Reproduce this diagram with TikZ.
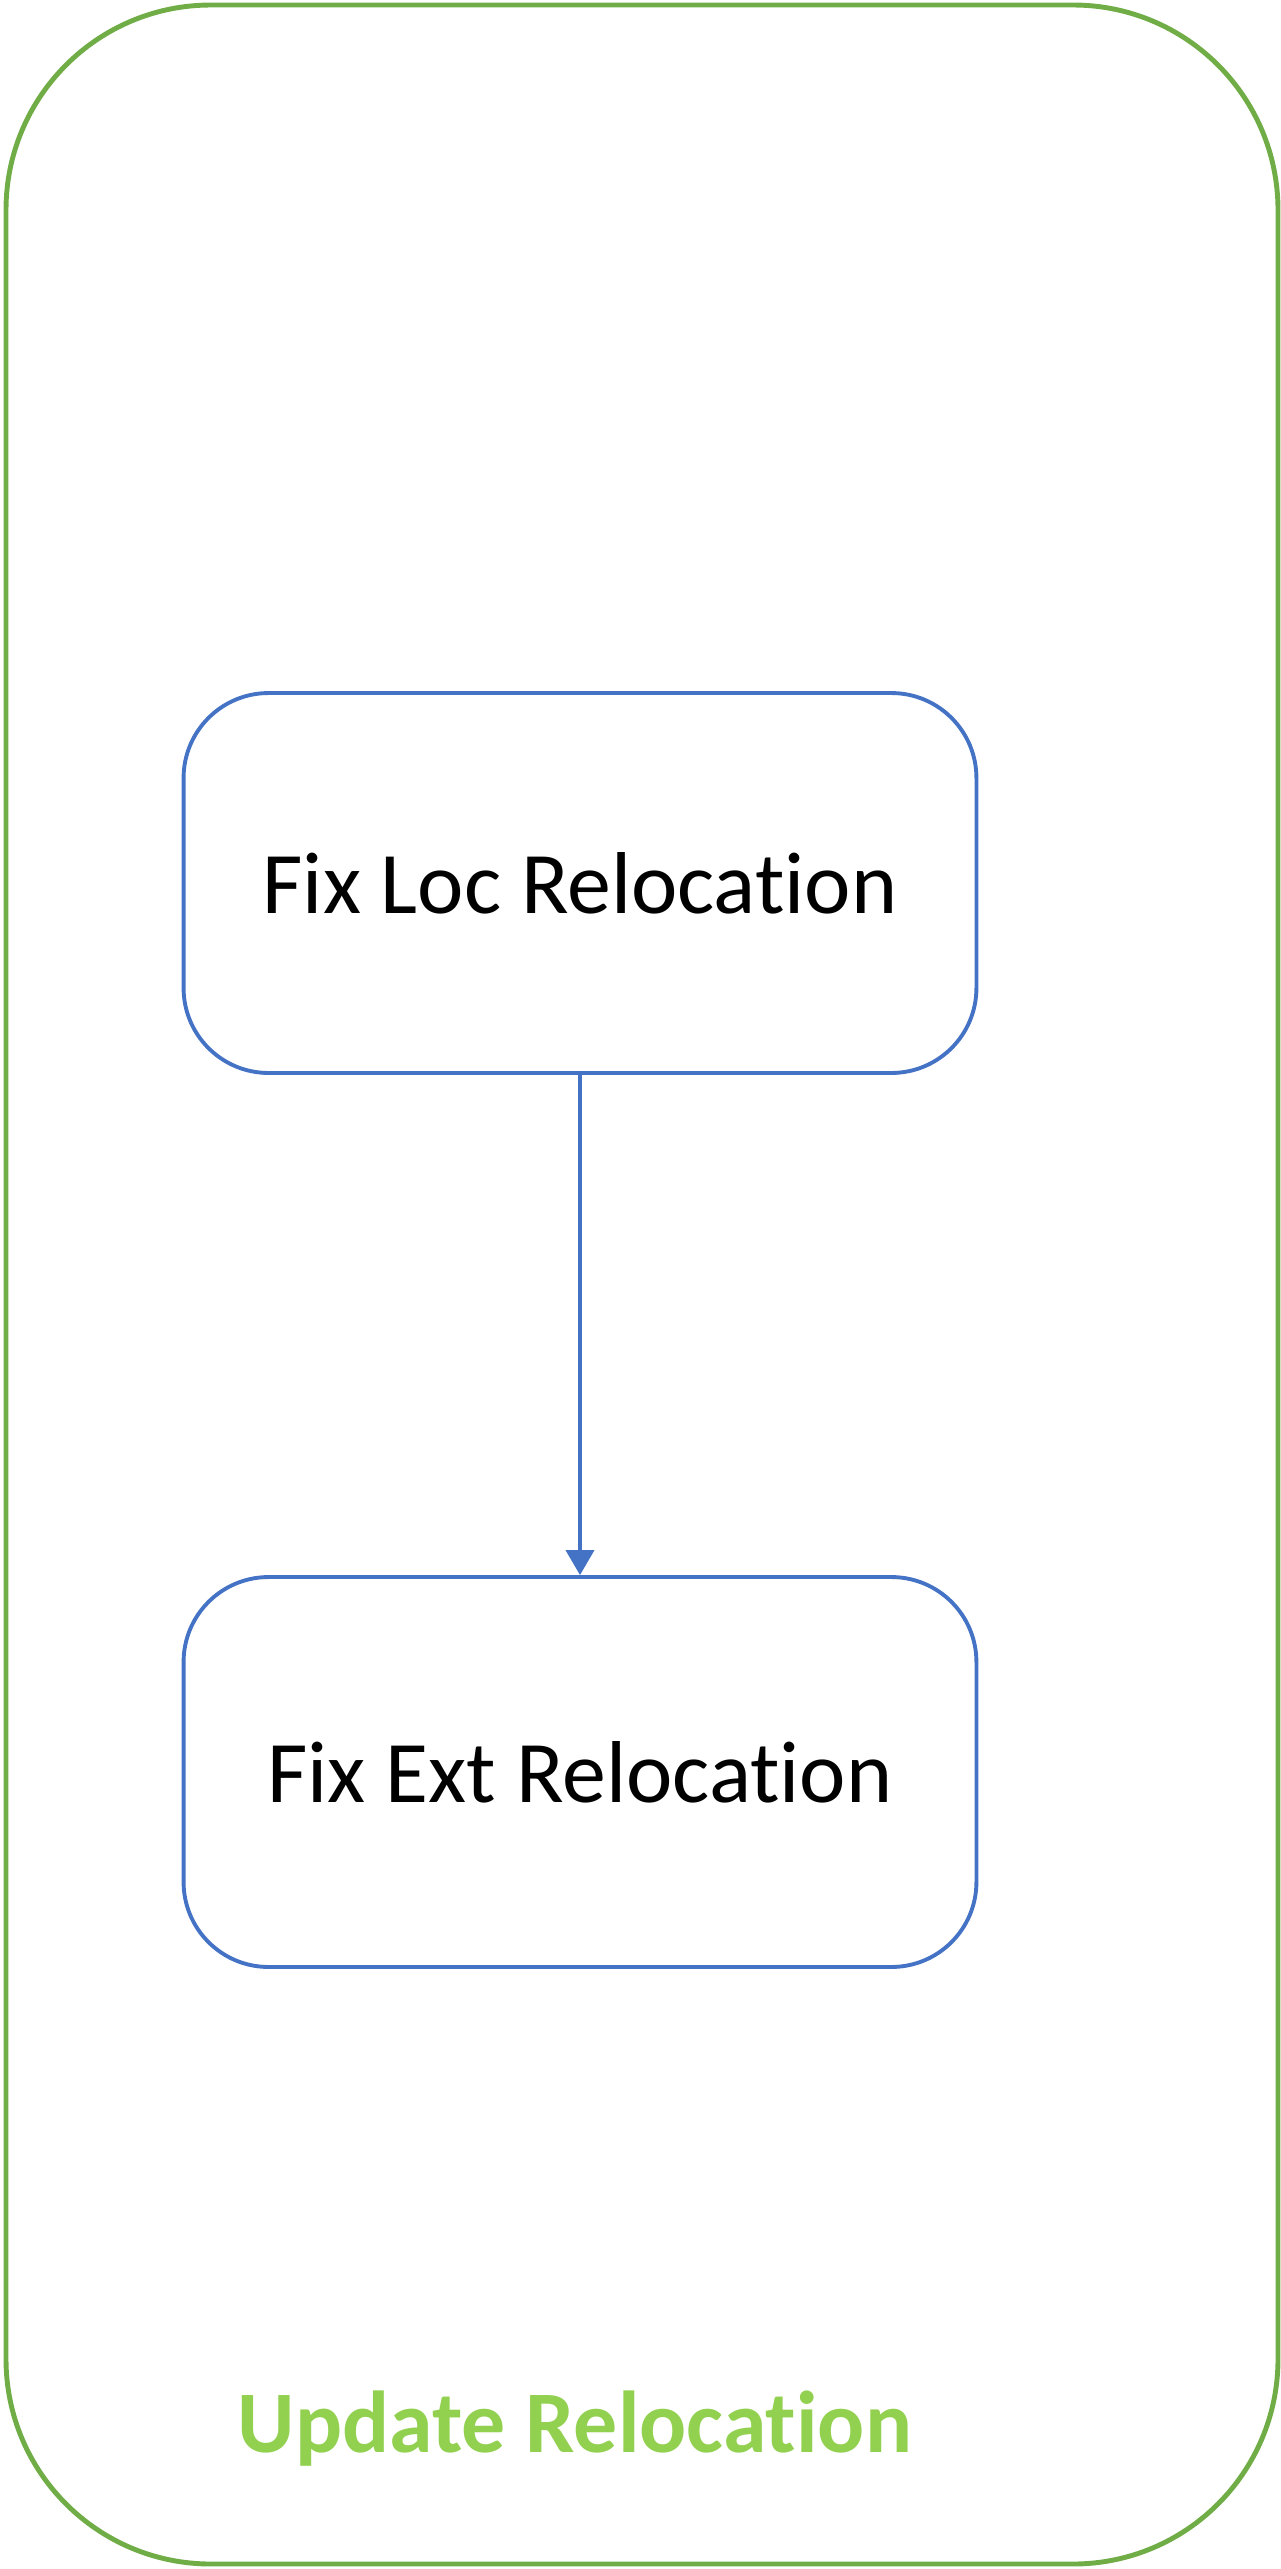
\documentclass[tikz,border=0pt]{standalone}
\usepackage{fontspec}
\setmainfont{Carlito}[Ligatures=NoCommon]
\usepackage{tikz}
\usetikzlibrary{arrows.meta, positioning}
\definecolor{stepblue}{HTML}{4472C4}
\definecolor{groupgreen}{HTML}{70AD47}
\definecolor{labelgreen}{HTML}{92D050}
\tikzset{->, >={Triangle[length=0.5cm, width=0.56cm]}}
\tikzset{stepbox/.style={shape=rectangle, draw=stepblue, line width=2.2pt,
    rounded corners=1.7cm, fill=white, minimum width=15.86cm, text=black,
    font=\fontsize{50}{60}\selectfont}}
\tikzset{flow/.style={color=stepblue, line width=2.2pt}}

\begin{document}
\begin{tikzpicture}[x=.02cm,y=-.02cm]
    \useasboundingbox (0,0) rectangle (1281,2569);
    \draw[-, groupgreen, line width=2.8pt, rounded corners=4.1cm]
      (6,5) rectangle (1278,2564);
    \node[stepbox, minimum height=7.6cm] (loc) at (580,883) {Fix Loc Relocation};
    \node[stepbox, minimum height=7.8cm] (ext) at (580,1772) {Fix Ext Relocation};
    \path[flow] (loc) edge (ext);
    \node[text=labelgreen, font=\fontsize{50}{60}\selectfont\bfseries]
      (title) at (575,2429) {Update Relocation};
  \end{tikzpicture}
\end{document}
